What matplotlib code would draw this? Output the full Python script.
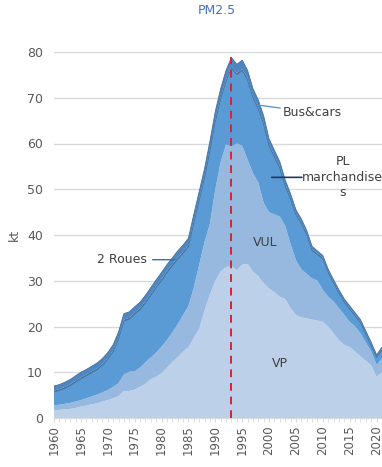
import numpy as np
import matplotlib
matplotlib.use("Agg")
from matplotlib import pyplot as plt
from matplotlib.ticker import MultipleLocator

years = list(range(1960, 2022))

vp = [1.6, 1.8, 1.9, 2.0, 2.2, 2.5, 2.7, 3.0, 3.2, 3.6,
      3.9, 4.3, 4.8, 5.9, 5.9, 6.2, 6.8, 7.5, 8.5, 9.0,
      9.8, 11.0, 12.2, 13.3, 14.5, 15.5, 17.5, 19.5, 23.5, 27.0,
      30.0, 32.0, 33.0, 33.2, 32.3, 33.5, 33.7, 32.0, 31.0, 29.5,
      28.3, 27.5, 26.5, 26.0, 24.0, 22.5, 22.0, 21.8, 21.5, 21.3,
      21.0, 20.0, 18.5, 17.0, 16.0, 15.5, 14.5, 13.5, 12.5, 11.5,
      9.0, 10.0]

vul = [1.1, 1.1, 1.2, 1.3, 1.4, 1.4, 1.6, 1.7, 1.9, 2.0,
       2.2, 2.5, 2.8, 3.6, 4.2, 4.0, 4.2, 4.7, 4.7, 5.3,
       5.8, 6.0, 6.5, 7.2, 8.0, 9.0, 11.0, 14.0, 15.0, 15.5,
       20.0, 24.0, 26.8, 26.1, 27.7, 26.0, 22.8, 21.5, 20.5, 17.5,
       16.7, 17.0, 17.5, 16.0, 14.0, 12.0, 10.5, 9.7, 9.0, 8.7,
       7.0, 6.5, 7.0, 7.0, 6.5, 5.5, 5.5, 5.0, 4.0, 3.0,
       2.6, 3.0]

pl = [3.0, 3.1, 3.4, 3.75, 4.25, 4.7, 4.9, 5.2, 5.45, 5.95,
      6.7, 7.7, 9.7, 11.7, 11.5, 12.5, 12.65, 12.95, 13.6, 14.2,
      14.45, 14.75, 14.55, 14.2, 13.5, 12.95, 14.15, 14.05, 14.05, 15.95,
      14.85, 13.75, 13.85, 17.15, 15.05, 16.45, 17.35, 16.45, 16.05, 17.15,
      14.4, 12.5, 10.6, 8.7, 9.8, 9.9, 10.0, 8.6, 6.1, 5.7,
      6.8, 5.3, 4.0, 3.3, 2.8, 2.8, 2.3, 2.3, 1.8, 1.3,
      1.65, 1.95]

roues = [0.3] * 16 + [0.35] * 24 + [0.3] * 10 + [0.2] * 10 + [0.15] * 2

bus = [1.0, 1.0, 1.0, 1.05, 1.05, 1.1, 1.1, 1.1, 1.15, 1.15,
       1.2, 1.2, 1.2, 1.3, 1.3, 1.3, 1.3, 1.3, 1.35, 1.35,
       1.4, 1.4, 1.4, 1.45, 1.45, 1.5, 1.5, 1.6, 1.6, 1.7,
       1.8, 1.9, 2.0, 2.0, 1.9, 1.9, 1.8, 1.7, 1.6, 1.5,
       1.3, 1.2, 1.1, 1.0, 0.9, 0.8, 0.7, 0.6, 0.6, 0.5,
       0.5, 0.5, 0.5, 0.5, 0.5, 0.5, 0.5, 0.5, 0.5, 0.5,
       0.4, 0.4]

colors = ["#bdd0ea", "#97b9df", "#5b9bd5", "#3f6e9c", "#4d86c2"]
txt = "#404040"

fig = plt.figure(figsize=(3.82, 4.67), dpi=100)
ax = fig.add_axes([54 / 382, 1 - 418 / 467, 1 - 54 / 382, (418 - 52) / 467])

ax.stackplot(years, vp, vul, pl, roues, bus, colors=colors, linewidth=0, zorder=2)

# thin darker edges on the top layers
cum = np.cumsum([vp, vul, pl, roues, bus], axis=0)
ax.plot(years, cum[2], color="#41719c", lw=0.6, zorder=3)
ax.plot(years, cum[4], color="#41719c", lw=0.6, zorder=3)

ax.axvline(1993, ymin=0, ymax=79 / 80, color="#e0202a", lw=1.4, ls=(0, (4, 3)), zorder=4)

ax.set_xlim(1960, 2021)
ax.set_ylim(0, 80)
ax.yaxis.set_major_locator(MultipleLocator(10))
ax.xaxis.set_major_locator(MultipleLocator(5))
ax.xaxis.set_minor_locator(MultipleLocator(1))
ax.grid(axis="y", color="#d9d9d9", lw=1.0, zorder=0)
ax.set_axisbelow(True)
for s in ["top", "right", "left"]:
    ax.spines[s].set_visible(False)
ax.spines["bottom"].set_color("#d9d9d9")
ax.tick_params(axis="y", length=0, labelsize=9, labelcolor="#595959", pad=8)
ax.tick_params(axis="x", which="both", length=3, color="#d9d9d9", labelsize=8.5,
               labelcolor="#595959", labelrotation=90, pad=2)
ax.set_ylabel("kt", fontsize=9, color="#595959", labelpad=4)

fig.text(217 / 382, 1 - 11 / 467, "PM2.5", ha="center", va="center",
         fontsize=9, color="#4472c4")

ax.text(1999.3, 38.3, "VUL", ha="center", va="center", fontsize=9, color=txt)
ax.text(2002, 12, "VP", ha="center", va="center", fontsize=9, color=txt)

ax.annotate("Bus&cars", xy=(1998.6, 68.3), xytext=(2002.6, 66.8),
            ha="left", va="center", fontsize=9, color=txt,
            arrowprops=dict(arrowstyle="-", color="#5b9bd5", lw=1.0, shrinkA=0, shrinkB=0))
ax.text(2013.7, 52.6, "PL\nmarchandise\ns", ha="center", va="center",
        fontsize=9, color=txt, linespacing=1.25)
ax.annotate("", xy=(2000.5, 52.6), xytext=(2006.1, 52.6),
            arrowprops=dict(arrowstyle="-", color="#1f3864", lw=1.2, shrinkA=0, shrinkB=0))
ax.annotate("2 Roues", xy=(1982.5, 34.6), xytext=(1977.3, 34.6),
            ha="right", va="center", fontsize=9, color=txt,
            arrowprops=dict(arrowstyle="-", color="#2e75b6", lw=1.0, shrinkA=2, shrinkB=0))

fig.savefig("out.png", dpi=100)
